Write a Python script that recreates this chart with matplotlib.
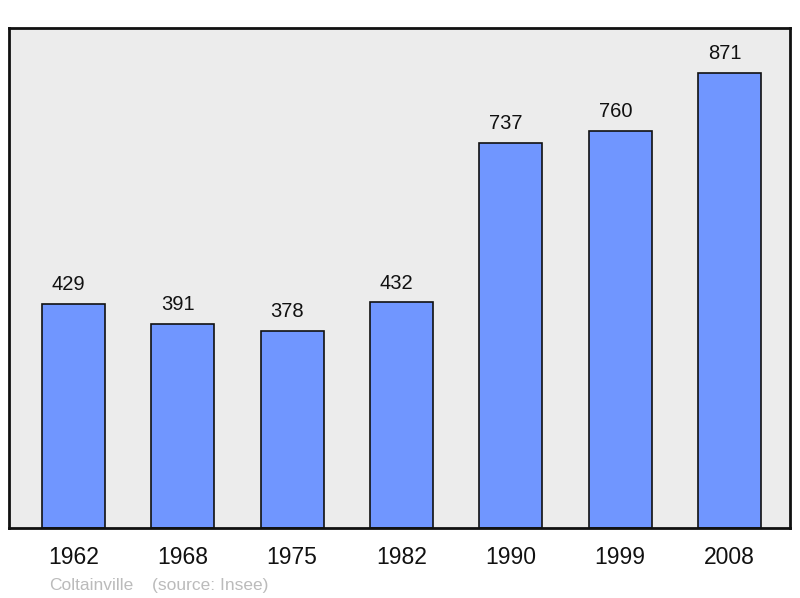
import matplotlib
matplotlib.use("Agg")
import matplotlib.pyplot as plt

years = ["1962", "1968", "1975", "1982", "1990", "1999", "2008"]
population = [429, 391, 378, 432, 737, 760, 871]
commune = "Coltainville"
source = "(source: Insee)"

plt.rcParams['font.family'] = ['Liberation Sans', 'DejaVu Sans']

W, H = 800, 598
fig = plt.figure(figsize=(8, 5.98), dpi=100)
ax = fig.add_axes([9 / W, (H - 528) / H, 781 / W, 500 / H])
ax.set_facecolor('#ececec')

x = list(range(len(years)))
ax.bar(x, population, width=0.578, color='#7096ff', edgecolor='#111111',
       linewidth=1.2, zorder=2)
for xi, v in zip(x, population):
    ax.annotate(str(v), (xi, v), xytext=(-3.5, 7), textcoords='offset points',
                ha='center', va='bottom', fontsize=14.5, color='#111111')

ax.set_xlim(-0.59, 6.553)
ax.set_ylim(0, 957)
ax.set_xticks(x)
ax.set_xticklabels(years, fontsize=16.5)
ax.tick_params(axis='x', length=0, pad=13, colors='#111111')
ax.set_yticks([])
for s in ax.spines.values():
    s.set_linewidth(2)
    s.set_color('#111111')

fig.text(49 / W, (H - 590) / H, commune, fontsize=12.5, color='#bbbbbb', ha='left', va='baseline')
fig.text(152 / W, (H - 590) / H, source, fontsize=12.5, color='#bbbbbb', ha='left', va='baseline')

fig.savefig("out.png", dpi=100)
